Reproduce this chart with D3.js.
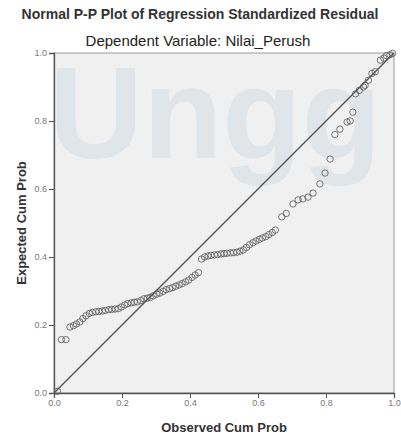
<!DOCTYPE html>
<html>
<head>
<meta charset="utf-8">
<script src="https://cdn.jsdelivr.net/npm/d3@7"></script>
<style>
  body { margin: 0; background: #fff; }
  text { font-family: "Liberation Sans", Arial, sans-serif; }
</style>
</head>
<body>
<div class="pp"></div>
<script>
// observed cum prob (x) and expected cum prob (y)
const OBSERVED = [0.010, 0.022, 0.035,
  0.047, 0.057, 0.066, 0.076, 0.085, 0.094, 0.104, 0.113, 0.123, 0.132,
  0.142, 0.151, 0.161, 0.170, 0.180, 0.189, 0.198, 0.208, 0.217, 0.227,
  0.236, 0.245, 0.255, 0.264, 0.274, 0.283, 0.292, 0.302, 0.311, 0.321,
  0.330, 0.340, 0.349, 0.358, 0.368, 0.377, 0.387, 0.396, 0.406, 0.415,
  0.425, 0.434, 0.443, 0.453, 0.462, 0.472, 0.481, 0.491, 0.500, 0.509,
  0.519, 0.528, 0.538, 0.547, 0.557, 0.566, 0.575, 0.585, 0.594, 0.604,
  0.613, 0.623, 0.632, 0.642, 0.651, 0.670, 0.683, 0.703, 0.718, 0.732,
  0.747, 0.762, 0.782, 0.797, 0.812, 0.826, 0.841, 0.862, 0.871, 0.879,
  0.887, 0.898, 0.910, 0.915, 0.925, 0.935, 0.945, 0.960, 0.970, 0.978,
  0.988, 0.996];
const EXPECTED = [0.005, 0.157, 0.157,
  0.194, 0.198, 0.203, 0.209, 0.219, 0.227, 0.234, 0.237, 0.239, 0.240,
  0.241, 0.243, 0.245, 0.246, 0.247, 0.248, 0.253, 0.259, 0.263, 0.265,
  0.267, 0.268, 0.272, 0.277, 0.279, 0.281, 0.286, 0.291, 0.294, 0.299,
  0.304, 0.307, 0.310, 0.314, 0.318, 0.322, 0.327, 0.332, 0.340, 0.347,
  0.354, 0.394, 0.400, 0.403, 0.405, 0.406, 0.407, 0.409, 0.410, 0.411,
  0.412, 0.413, 0.414, 0.417, 0.421, 0.428, 0.436, 0.442, 0.447, 0.452,
  0.456, 0.460, 0.466, 0.472, 0.479, 0.518, 0.528, 0.556, 0.568, 0.571,
  0.576, 0.588, 0.615, 0.647, 0.688, 0.760, 0.776, 0.797, 0.800, 0.826,
  0.880, 0.890, 0.900, 0.905, 0.920, 0.940, 0.945, 0.979, 0.985, 0.992,
  0.995, 0.999];
const TICKS = [0.0, 0.2, 0.4, 0.6, 0.8, 1.0];

const TITLE = "Normal P-P Plot of Regression Standardized Residual";
const SUBTITLE = "Dependent Variable: Nilai_Perush";
const X_TITLE = "Observed Cum Prob";
const Y_TITLE = "Expected Cum Prob";
const WATERMARK = "Ungg";

let FRAME_WIDTH = 401;
let FRAME_HEIGHT = 437;
let MARGINS = {left: 54, right: 7, top: 53, bottom: 44};

let PLOT_WIDTH = FRAME_WIDTH - MARGINS.left - MARGINS.right;
let PLOT_HEIGHT = FRAME_HEIGHT - MARGINS.top - MARGINS.bottom;

let FRAME = d3.select(".pp")
              .append("svg")
              .attr("width", FRAME_WIDTH)
              .attr("height", FRAME_HEIGHT);

const X_SCALE = d3.scaleLinear().domain([0, 1]).range([0, PLOT_WIDTH]);
const Y_SCALE = d3.scaleLinear().domain([0, 1]).range([PLOT_HEIGHT, 0]);

let PLOT = FRAME.append("g")
                .attr("transform", "translate(" + MARGINS.left + "," + MARGINS.top + ")");

// plot background
PLOT.append("rect")
    .attr("width", PLOT_WIDTH)
    .attr("height", PLOT_HEIGHT)
    .style("fill", "#f0f0f0")
    .style("stroke", "#9a9a9a")
    .style("stroke-width", 1);

// faint watermark from the source picture
PLOT.append("text")
    .attr("x", -5)
    .attr("y", 105)
    .style("font-size", "130px")
    .style("font-weight", "bold")
    .style("fill", "#c5d1df")
    .style("fill-opacity", 0.38)
    .text(WATERMARK);

// axes
PLOT.append("g")
    .attr("class", "axis")
    .attr("transform", "translate(0," + PLOT_HEIGHT + ")")
    .call(d3.axisBottom(X_SCALE).tickValues(TICKS).tickFormat(d3.format(".1f"))
            .tickSizeOuter(0).tickSize(5).tickPadding(2));

PLOT.append("g")
    .attr("class", "axis")
    .call(d3.axisLeft(Y_SCALE).tickValues(TICKS).tickFormat(d3.format(".1f"))
            .tickSizeOuter(0).tickSize(5).tickPadding(2));

PLOT.selectAll(".axis path").style("stroke", "#555").style("stroke-width", 1.3);
PLOT.selectAll(".axis line").style("stroke", "#555");
PLOT.selectAll(".axis text")
    .style("font-size", "9px")
    .style("fill", "#777");

// reference diagonal
PLOT.append("line")
    .attr("x1", X_SCALE(0)).attr("y1", Y_SCALE(0))
    .attr("x2", X_SCALE(1)).attr("y2", Y_SCALE(1))
    .style("stroke", "#555")
    .style("stroke-width", 1.4);

// points
let points = OBSERVED.map((d, i) => ({x: d, y: EXPECTED[i]}));

PLOT.selectAll("circle")
    .data(points)
    .enter()
    .append("circle")
      .attr("cx", (d) => X_SCALE(d.x))
      .attr("cy", (d) => Y_SCALE(d.y))
      .attr("r", 3.2)
      .style("fill", "none")
      .style("stroke", "#555")
      .style("stroke-width", 0.8);

// titles
FRAME.append("text")
     .attr("x", 200)
     .attr("y", 19)
     .attr("text-anchor", "middle")
     .style("font-size", "14px")
     .style("font-weight", "bold")
     .style("fill", "#333")
     .text(TITLE);

FRAME.append("text")
     .attr("x", 198)
     .attr("y", 46)
     .attr("text-anchor", "middle")
     .style("font-size", "15px")
     .style("fill", "#222")
     .text(SUBTITLE);

FRAME.append("text")
     .attr("x", MARGINS.left + PLOT_WIDTH / 2)
     .attr("y", 432)
     .attr("text-anchor", "middle")
     .style("font-size", "13px")
     .style("font-weight", "bold")
     .style("fill", "#333")
     .text(X_TITLE);

FRAME.append("text")
     .attr("transform", "rotate(-90)")
     .attr("x", -(MARGINS.top + PLOT_HEIGHT / 2))
     .attr("y", 26)
     .attr("text-anchor", "middle")
     .style("font-size", "13px")
     .style("font-weight", "bold")
     .style("fill", "#333")
     .text(Y_TITLE);
</script>
</body>
</html>
